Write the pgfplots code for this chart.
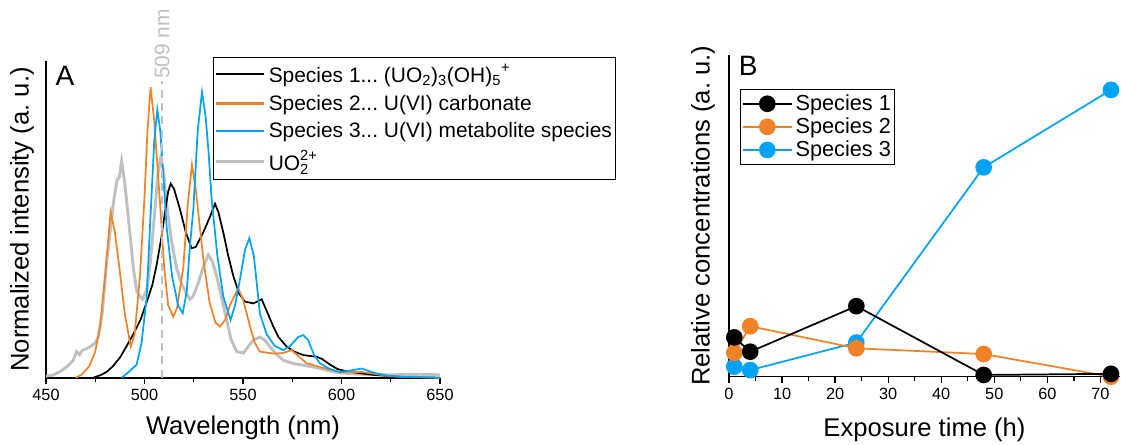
\documentclass[border=0pt]{standalone}
\usepackage{fontspec}
\setmainfont{Liberation Sans}
\usepackage{pgfplots}
\pgfplotsset{compat=1.18}
\definecolor{cOr}{RGB}{240,130,40}
\definecolor{cBl}{RGB}{0,163,245}
\definecolor{cGr}{RGB}{192,192,192}
\frenchspacing
\begin{document}
\begin{tikzpicture}
\pgfplotsset{
  common/.style={
    scale only axis,
    axis x line*=bottom, axis y line*=left,
    x axis line style={-, line width=1.2pt},
    y axis line style={-, line width=1.2pt},
    tick align=outside,
    major tick length=5pt, minor tick length=3.5pt,
    every tick/.style={black, line width=1pt},
    ytick=\empty,
    /pgf/number format/assume math mode=true,
    clip=false,
  }
}
% ---------------- Panel A ----------------
\begin{axis}[common,
  at={(34.5pt,-283.3pt)}, anchor=south west,
  width=295.5pt, height=237.5pt,
  xmin=450, xmax=650, ymin=0, ymax=1.09,
  xtick={450,500,...,650}, minor xtick={475,525,575,625},
  tick label style={font=\fontsize{12.2}{14}\selectfont},
  xlabel={Wavelength (nm)}, ylabel={Normalized intensity (a.\ u.)},
  label style={font=\fontsize{19.2}{22}\selectfont},
  xlabel style={at={(axis description cs:0.5,-0.158)}, anchor=center},
  ylabel style={at={(axis description cs:-0.061,0.5)}, anchor=center, rotate=0},
  legend style={at={(axis description cs:0.424,1.013)}, anchor=north west,
    draw=black, line width=0.75pt, font=\fontsize{15.7}{18}\selectfont\frenchspacing,
    inner xsep=1pt, inner ysep=3pt, row sep=4pt},
  legend cell align=left,
  legend image code/.code={\draw[#1] (0pt,0pt) -- (36pt,0pt);},
]
\addlegendimage{black, line width=1.6pt}
\addlegendentry{Species 1... (UO\textsubscript{2})\textsubscript{3}(OH)\textsubscript{5}\raisebox{2pt}{\textsuperscript{+}}}
\addlegendimage{cOr, line width=1.6pt}
\addlegendentry{Species 2... U(VI) carbonate}
\addlegendimage{cBl, line width=1.6pt}
\addlegendentry{Species 3... U(VI) metabolite species}
\addlegendimage{cGr, line width=2.4pt}
\addlegendentry{UO\makebox[0pt][l]{\raisebox{2pt}{\textsuperscript{2+}}}\textsubscript{2}\phantom{\textsuperscript{2+}}}

% UO2 2+ (gray)
\addplot[cGr, line width=2.2pt, forget plot] coordinates {
(450,0.005) (452,0.008) (454,0.01) (456,0.018) (457,0.02) (459,0.03) (461,0.04) (463.8,0.06) (465.5,0.09) (467,0.08) (468.5,0.095) (470.6,0.1) (473,0.11) (475,0.12) (476.5,0.14) (478.5,0.22) (480.8,0.4) (482.5,0.5) (484.2,0.6) (486,0.68) (487.2,0.69) (488.4,0.745) (490,0.67) (491.8,0.55) (494.3,0.38) (496,0.3) (497.7,0.28) (499,0.27) (501.1,0.30) (503,0.4) (505.3,0.58) (506.8,0.7) (508.1,0.753) (509.5,0.72) (511.2,0.6) (513.5,0.48) (516.2,0.38) (519,0.32) (521.3,0.29) (523,0.27) (524.6,0.28) (527,0.32) (529.8,0.38) (532.4,0.423) (534.5,0.4) (536.6,0.35) (539,0.28) (541.7,0.2) (544,0.13) (546.8,0.09) (550.2,0.085) (553,0.11) (555.3,0.13) (558.6,0.14) (561,0.13) (563.7,0.107) (567,0.08) (570.5,0.06) (575,0.05) (579,0.045) (583,0.04) (587.4,0.035) (593,0.025) (599,0.017) (610,0.012) (625,0.01) (640,0.012) (650,0.01)};
% Species 1 (black)
\addplot[black, line width=1.3pt, forget plot] coordinates {
(474,0) (478,0.01) (480.8,0.02) (484,0.04) (487.6,0.07) (491,0.11) (494.3,0.15) (498,0.2) (501.1,0.26) (504,0.32) (506.2,0.39) (508.5,0.48) (510.4,0.57) (512,0.64) (513.3,0.668) (515,0.65) (518,0.58) (521,0.5) (523.9,0.446) (526,0.45) (529.8,0.5) (533,0.55) (535.8,0.599) (537.5,0.57) (540,0.5) (542.5,0.42) (545.1,0.35) (548,0.29) (551,0.262) (555.3,0.256) (559.5,0.27) (562,0.23) (565.4,0.176) (568,0.14) (572.2,0.107) (576,0.09) (580.6,0.078) (587.4,0.072) (590,0.065) (594.2,0.045) (598,0.03) (602.6,0.022) (616,0.01) (630,0.003) (650,0)};
% Species 2 (orange)
\addplot[cOr, line width=1.3pt, forget plot] coordinates {
(465,0) (468,0.01) (472,0.04) (475,0.09) (477.5,0.18) (480,0.35) (482.8,0.57) (485,0.5) (487.6,0.36) (490,0.22) (493,0.107) (495,0.15) (497.7,0.35) (500,0.62) (501.5,0.85) (503.1,1.0) (505,0.88) (507.9,0.6) (510,0.38) (512,0.25) (514.6,0.21) (516.5,0.24) (519.7,0.38) (522,0.6) (524.1,0.733) (526,0.65) (529.9,0.406) (533,0.26) (536,0.19) (538.3,0.176) (541,0.2) (543.4,0.25) (547.6,0.308) (550,0.27) (553.6,0.176) (556,0.12) (558.6,0.09) (565.4,0.083) (570,0.085) (574.7,0.095) (578,0.075) (582.3,0.05) (590,0.035) (599.2,0.02) (610,0.02) (625,0.005) (650,0)};
% Species 3 (blue)
\addplot[cBl, line width=1.3pt, forget plot] coordinates {
(488.4,0) (492,0.02) (496,0.045) (498.5,0.12) (501.1,0.276) (503,0.55) (505,0.82) (506.5,0.923) (508,0.85) (509.5,0.7) (511.2,0.52) (514,0.35) (517,0.25) (519.4,0.222) (521.5,0.3) (523,0.45) (524.8,0.58) (527,0.85) (529.2,0.983) (531,0.9) (532.5,0.78) (534.1,0.613) (537,0.42) (540,0.28) (543.7,0.199) (546,0.25) (548.5,0.34) (551,0.44) (553.2,0.48) (555.5,0.42) (558.6,0.22) (562,0.15) (566,0.11) (570.5,0.095) (574,0.11) (578,0.14) (580.6,0.147) (583,0.13) (586,0.08) (589,0.05) (594,0.03) (599,0.02) (605,0.025) (610.3,0.032) (615,0.02) (622,0.008) (630,0.003) (650,0)};
% 509 nm marker
\addplot[cGr, line width=1.5pt, dashed, dash pattern=on 6pt off 4pt, forget plot] coordinates {(509,0) (509,1.02)};
\node[rotate=90, anchor=west, text=cGr, font=\fontsize{15.7}{18}\selectfont, inner sep=0pt] at (axis cs:509,1.028) {509 nm};
\node[font=\fontsize{21}{24}\selectfont] at (axis description cs:0.048,0.953) {A};
\end{axis}
% ---------------- Panel B ----------------
\begin{axis}[common,
  at={(546.75pt,-282.5pt)}, anchor=south west,
  width=293.25pt, height=241.3pt,
  xmin=0, xmax=73.7, ymin=0, ymax=1.122,
  xtick={0,10,...,70}, minor xtick={5,15,...,65},
  tick label style={font=\fontsize{12.2}{14}\selectfont},
  xlabel={Exposure time (h)}, ylabel={Relative concentrations (a.\ u.)},
  label style={font=\fontsize{19.2}{22}\selectfont},
  xlabel style={at={(axis description cs:0.5,-0.166)}, anchor=center},
  ylabel style={at={(axis description cs:-0.0665,0.5)}, anchor=center, rotate=0},
  legend style={at={(axis description cs:0.028,0.894)}, anchor=north west,
    draw=black, line width=0.75pt, font=\fontsize{16.3}{18}\selectfont,
    inner xsep=1pt, inner ysep=2pt, row sep=0pt},
  legend cell align=left,
  legend image code/.code={\draw[mark repeat=2,mark phase=2,#1] plot coordinates {(0pt,0pt) (18.5pt,0pt) (37pt,0pt)};},
]
\addlegendimage{black, line width=1.3pt, mark=*, mark size=5.6pt, mark options={fill=black}}
\addlegendentry{Species 1}
\addlegendimage{cOr, line width=1.3pt, mark=*, mark size=5.6pt, mark options={fill=cOr}}
\addlegendentry{Species 2}
\addlegendimage{cBl, line width=1.3pt, mark=*, mark size=5.6pt, mark options={fill=cBl}}
\addlegendentry{Species 3}
\addplot[cBl, line width=1.3pt, mark=*, mark size=5.6pt, mark options={fill=cBl}, forget plot] coordinates {
(1,0.035) (4,0.023) (24,0.119) (48,0.73) (72,1.0)};
\addplot[cOr, line width=1.3pt, mark=*, mark size=5.6pt, mark options={fill=cOr}, forget plot] coordinates {
(1,0.083) (4,0.176) (24,0.099) (48,0.079) (72,0.0)};
\addplot[black, line width=1.3pt, mark=*, mark size=5.6pt, mark options={fill=black}, forget plot] coordinates {
(1,0.137) (4,0.087) (24,0.246) (48,0.006) (72,0.01)};
\node[font=\fontsize{21}{24}\selectfont] at (axis description cs:0.049,0.966) {B};
\end{axis}
\pgfresetboundingbox
\path[use as bounding box] (0,0) rectangle (840.75pt,-333pt);
\end{tikzpicture}
\end{document}
